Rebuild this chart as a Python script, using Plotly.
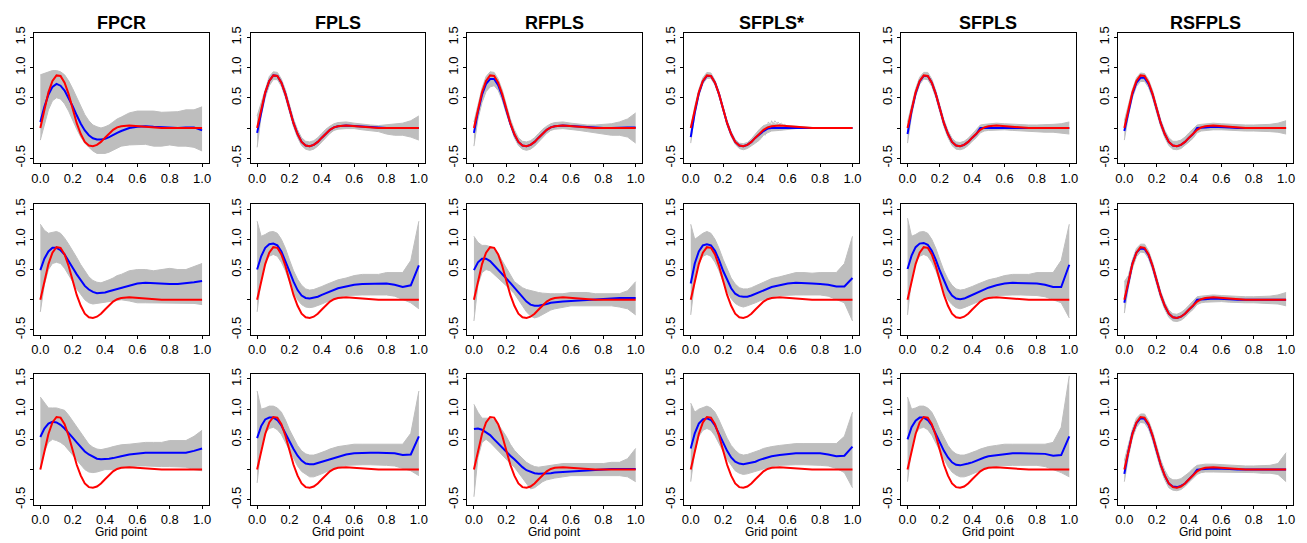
import plotly.graph_objects as go

# Grid on which every coefficient curve is stored
GRID = [0, 0.025, 0.05, 0.075, 0.1, 0.125, 0.15, 0.175, 0.2, 0.225, 0.25, 0.275, 0.3,
        0.325, 0.35, 0.375, 0.4, 0.425, 0.45, 0.475, 0.5, 0.55, 0.6, 0.65, 0.7, 0.75,
        0.8, 0.85, 0.9, 0.95, 1.0]

# True coefficient function (red)
TRUTH = [0.0, 0.32, 0.59, 0.78, 0.87, 0.86, 0.75, 0.56, 0.32, 0.08, -0.10, -0.23, -0.29,
         -0.30, -0.28, -0.23, -0.16, -0.09, -0.03, 0.01, 0.03, 0.04, 0.03, 0.015, 0.0, 0.0,
         0.0, 0.0, 0.0, 0.0, 0.0]

METHODS = ["FPCR", "FPLS", "RFPLS", "SFPLS*", "SFPLS", "RSFPLS"]
X_TICKS = [0, 0.2, 0.4, 0.6, 0.8, 1.0]
X_TICK_TEXT = ["0.0", "0.2", "0.4", "0.6", "0.8", "1.0"]
Y_TICKS = [-0.5, 0.0, 0.5, 1.0, 1.5]
Y_TICK_TEXT = ["-0.5", "", "0.5", "1.0", "1.5"]

# ---- Row 1: mean estimate (blue) and spread of replicate estimates (gray) ----
R1_FPCR_MEAN = [0.10, 0.35, 0.55, 0.68, 0.73, 0.70, 0.62, 0.50, 0.36, 0.21, 0.07, -0.04, -0.12,
                -0.17, -0.19, -0.19, -0.18, -0.15, -0.11, -0.08, -0.05, 0.0, 0.02, 0.03, 0.02,
                0.01, 0.0, 0.0, 0.01, 0.01, -0.04]
R1_FPCR_LO = [-0.2, 0.05, 0.3, 0.45, 0.5, 0.48, 0.4, 0.28, 0.12, -0.02, -0.15, -0.25, -0.32,
              -0.38, -0.42, -0.42, -0.42, -0.4, -0.37, -0.34, -0.3, -0.28, -0.27, -0.27, -0.3,
              -0.3, -0.28, -0.3, -0.3, -0.32, -0.38]
R1_FPCR_HI = [0.88, 0.9, 0.92, 0.95, 0.95, 0.93, 0.88, 0.78, 0.65, 0.5, 0.35, 0.22, 0.12,
              0.05, 0.02, 0.0, 0.02, 0.05, 0.1, 0.15, 0.18, 0.25, 0.28, 0.28, 0.28, 0.26,
              0.26, 0.27, 0.3, 0.3, 0.35]

R1_FPLS_MEAN = [-0.08, 0.28, 0.58, 0.78, 0.87, 0.86, 0.75, 0.56, 0.32, 0.08, -0.10, -0.23, -0.29,
                -0.30, -0.28, -0.23, -0.16, -0.09, -0.03, 0.01, 0.03, 0.04, 0.03, 0.02, 0.01,
                0.0, 0.0, 0.0, 0.0, 0.0, 0.0]
R1_FPLS_LO = [-0.32, 0.2, 0.5, 0.7, 0.8, 0.8, 0.69, 0.5, 0.26, 0.02, -0.16, -0.29, -0.35,
              -0.37, -0.35, -0.3, -0.23, -0.16, -0.09, -0.04, -0.02, -0.01, -0.01, -0.03, -0.05,
              -0.06, -0.1, -0.12, -0.12, -0.15, -0.2]
R1_FPLS_HI = [0.2, 0.42, 0.66, 0.85, 0.93, 0.92, 0.81, 0.63, 0.39, 0.15, -0.03, -0.16, -0.22,
              -0.23, -0.21, -0.16, -0.09, -0.02, 0.03, 0.07, 0.09, 0.1, 0.08, 0.06, 0.05,
              0.04, 0.05, 0.06, 0.08, 0.12, 0.2]

R1_RFPLS_MEAN = [-0.08, 0.27, 0.55, 0.73, 0.81, 0.81, 0.71, 0.53, 0.3, 0.07, -0.11, -0.23, -0.29,
                 -0.3, -0.28, -0.23, -0.16, -0.09, -0.03, 0.01, 0.03, 0.04, 0.03, 0.02, 0.01,
                 0.0, 0.0, 0.0, 0.01, 0.01, 0.01]
R1_RFPLS_LO = [-0.3, 0.15, 0.42, 0.6, 0.68, 0.7, 0.62, 0.46, 0.24, 0.02, -0.16, -0.29, -0.35,
               -0.37, -0.35, -0.3, -0.23, -0.16, -0.09, -0.04, -0.02, -0.01, -0.02, -0.04, -0.06,
               -0.08, -0.1, -0.12, -0.12, -0.15, -0.25]
R1_RFPLS_HI = [0.1, 0.4, 0.66, 0.85, 0.93, 0.92, 0.81, 0.63, 0.39, 0.15, -0.03, -0.16, -0.22,
               -0.23, -0.21, -0.16, -0.09, -0.02, 0.03, 0.07, 0.09, 0.1, 0.08, 0.06, 0.05,
               0.05, 0.06, 0.07, 0.1, 0.15, 0.25]

R1_SFPLSS_MEAN = [-0.15, 0.25, 0.57, 0.77, 0.86, 0.86, 0.75, 0.56, 0.32, 0.08, -0.1, -0.23, -0.29,
                  -0.3, -0.28, -0.23, -0.16, -0.1, -0.05, -0.01, 0.0, 0.0, 0.0, 0.0, 0.0,
                  0.0, 0.0, 0.0, 0.0, 0.0, 0.0]
R1_SFPLSS_LO = [-0.25, 0.22, 0.53, 0.73, 0.82, 0.82, 0.71, 0.52, 0.28, 0.04, -0.14, -0.27, -0.34,
                -0.36, -0.34, -0.3, -0.25, -0.2, -0.12, -0.08, -0.05, -0.04, -0.02, -0.01, 0.0,
                0.0, 0.0, 0.0, 0.0, 0.0, 0.0]
R1_SFPLSS_HI = [0.0, 0.36, 0.64, 0.83, 0.92, 0.91, 0.79, 0.6, 0.36, 0.12, -0.06, -0.19, -0.25,
                -0.26, -0.24, -0.18, -0.1, -0.02, 0.04, 0.06, 0.06, 0.05, 0.04, 0.03, 0.01,
                0.0, 0.0, 0.0, 0.0, 0.0, 0.0]
# a few individual SFPLS* replicates that break up around the sparse cut-off
SPIKE_X = [0.38, 0.40, 0.42, 0.44, 0.46, 0.48, 0.50, 0.52, 0.54, 0.56, 0.58, 0.60, 0.62]
SPIKE_A = [-0.22, -0.17, -0.2, -0.05, -0.12, 0.1, 0.02, 0.12, 0.05, 0.08, 0.03, 0.04, 0.0]
SPIKE_B = [-0.23, -0.16, -0.08, -0.15, 0.0, -0.06, 0.12, 0.0, 0.1, 0.02, 0.06, 0.02, 0.01]
SPIKE_C = [-0.2, -0.12, -0.14, -0.02, -0.08, 0.05, -0.03, 0.08, -0.02, 0.05, 0.0, 0.03, 0.0]

R1_SFPLS_MEAN = [-0.1, 0.28, 0.57, 0.77, 0.86, 0.86, 0.75, 0.56, 0.32, 0.08, -0.1, -0.23, -0.29,
                 -0.3, -0.28, -0.23, -0.16, -0.1, 0.0, 0.0, 0.0, 0.01, 0.01, 0.01, 0.0,
                 0.0, 0.0, 0.0, 0.0, 0.0, 0.0]
R1_SFPLS_LO = [-0.25, 0.2, 0.52, 0.72, 0.81, 0.8, 0.69, 0.5, 0.26, 0.02, -0.16, -0.29, -0.35,
               -0.36, -0.34, -0.29, -0.22, -0.16, -0.08, -0.05, -0.04, -0.03, -0.03, -0.04, -0.05,
               -0.06, -0.06, -0.07, -0.07, -0.08, -0.1]
R1_SFPLS_HI = [0.1, 0.38, 0.65, 0.84, 0.92, 0.92, 0.81, 0.62, 0.38, 0.14, -0.04, -0.17, -0.23,
               -0.24, -0.22, -0.17, -0.1, -0.03, 0.05, 0.06, 0.07, 0.08, 0.07, 0.06, 0.05,
               0.05, 0.05, 0.05, 0.06, 0.07, 0.1]

R1_RSFPLS_MEAN = [-0.05, 0.28, 0.56, 0.75, 0.83, 0.83, 0.73, 0.55, 0.31, 0.08, -0.1, -0.23, -0.29,
                  -0.3, -0.28, -0.23, -0.16, -0.1, 0.0, 0.0, 0.01, 0.02, 0.02, 0.01, 0.0,
                  0.0, 0.0, 0.0, 0.0, 0.0, 0.0]
R1_RSFPLS_LO = [-0.2, 0.2, 0.5, 0.69, 0.77, 0.77, 0.67, 0.49, 0.25, 0.02, -0.16, -0.29, -0.35,
                -0.36, -0.34, -0.29, -0.23, -0.17, -0.08, -0.05, -0.04, -0.03, -0.03, -0.04, -0.05,
                -0.05, -0.05, -0.05, -0.06, -0.07, -0.1]
R1_RSFPLS_HI = [0.12, 0.38, 0.64, 0.83, 0.91, 0.9, 0.8, 0.62, 0.38, 0.14, -0.04, -0.16, -0.22,
                -0.22, -0.2, -0.15, -0.08, -0.01, 0.05, 0.06, 0.07, 0.08, 0.07, 0.06, 0.05,
                0.05, 0.05, 0.05, 0.06, 0.08, 0.12]

# ---- Row 2 ----
R2_FPCR_MEAN = [0.49, 0.68, 0.80, 0.86, 0.86, 0.82, 0.75, 0.65, 0.53, 0.42, 0.32, 0.23, 0.17,
                0.13, 0.11, 0.11, 0.12, 0.14, 0.16, 0.18, 0.2, 0.24, 0.27, 0.28, 0.27, 0.26,
                0.26, 0.26, 0.27, 0.29, 0.31]
R2_FPCR_LO = [-0.2, 0.25, 0.5, 0.6, 0.62, 0.6, 0.52, 0.42, 0.3, 0.18, 0.08, 0.0, -0.05,
              -0.07, -0.06, -0.05, -0.03, -0.02, -0.01, 0.0, 0.0, -0.02, -0.05, -0.05, -0.05,
              -0.05, -0.05, -0.05, -0.05, -0.06, -0.08]
R2_FPCR_HI = [1.25, 1.15, 1.1, 1.12, 1.13, 1.1, 1.02, 0.92, 0.82, 0.7, 0.58, 0.47, 0.38,
              0.32, 0.29, 0.28, 0.3, 0.33, 0.36, 0.4, 0.42, 0.48, 0.5, 0.5, 0.48, 0.5,
              0.52, 0.5, 0.5, 0.55, 0.6]

R2_FPLS_MEAN = [0.5, 0.72, 0.86, 0.92, 0.93, 0.9, 0.8, 0.65, 0.47, 0.3, 0.16, 0.07, 0.03,
                0.02, 0.03, 0.05, 0.08, 0.11, 0.14, 0.17, 0.19, 0.22, 0.25, 0.26, 0.26, 0.26,
                0.27, 0.25, 0.21, 0.24, 0.57]
R2_FPLS_LO = [-0.2, 0.35, 0.62, 0.72, 0.75, 0.72, 0.62, 0.48, 0.3, 0.13, 0.0, -0.08, -0.12,
              -0.13, -0.12, -0.1, -0.07, -0.04, -0.01, 0.02, 0.04, 0.07, 0.08, 0.08, 0.08,
              0.08, 0.08, 0.06, 0.0, -0.05, -0.15]
R2_FPLS_HI = [1.3, 1.05, 1.08, 1.12, 1.13, 1.1, 1.0, 0.85, 0.66, 0.48, 0.34, 0.24, 0.18,
              0.16, 0.17, 0.19, 0.22, 0.25, 0.28, 0.31, 0.33, 0.36, 0.4, 0.42, 0.42, 0.42,
              0.45, 0.45, 0.45, 0.65, 1.3]

R2_RFPLS_MEAN = [0.49, 0.62, 0.68, 0.68, 0.64, 0.57, 0.49, 0.42, 0.35, 0.28, 0.2, 0.12, 0.04,
                 -0.03, -0.08, -0.1, -0.1, -0.09, -0.07, -0.05, -0.04, -0.03, -0.02, -0.01, 0.0,
                 0.01, 0.01, 0.02, 0.03, 0.03, 0.03]
R2_RFPLS_LO = [-0.35, 0.25, 0.45, 0.5, 0.48, 0.42, 0.36, 0.3, 0.23, 0.17, 0.1, 0.0, -0.1,
               -0.2, -0.27, -0.3, -0.28, -0.24, -0.2, -0.17, -0.15, -0.12, -0.1, -0.1, -0.1,
               -0.1, -0.1, -0.1, -0.12, -0.15, -0.25]
R2_RFPLS_HI = [1.05, 0.95, 0.9, 0.9, 0.88, 0.85, 0.76, 0.64, 0.52, 0.4, 0.3, 0.25, 0.2,
               0.17, 0.15, 0.13, 0.12, 0.11, 0.1, 0.1, 0.1, 0.1, 0.12, 0.12, 0.12,
               0.1, 0.1, 0.1, 0.1, 0.15, 0.3]

R2_SFPLSS_MEAN = [0.27, 0.6, 0.8, 0.9, 0.92, 0.9, 0.81, 0.66, 0.48, 0.32, 0.19, 0.1, 0.06,
                  0.05, 0.05, 0.07, 0.1, 0.13, 0.16, 0.19, 0.21, 0.24, 0.27, 0.28, 0.28, 0.27,
                  0.26, 0.25, 0.22, 0.22, 0.36]
R2_SFPLSS_LO = [-0.25, 0.3, 0.6, 0.72, 0.75, 0.72, 0.62, 0.48, 0.3, 0.14, 0.02, -0.06, -0.1,
                -0.12, -0.1, -0.08, -0.05, -0.02, 0.0, 0.03, 0.05, 0.07, 0.08, 0.08, 0.08,
                0.08, 0.08, 0.06, 0.0, -0.05, -0.35]
R2_SFPLSS_HI = [1.25, 1.0, 1.05, 1.1, 1.13, 1.1, 1.0, 0.85, 0.67, 0.5, 0.36, 0.26, 0.2,
                0.18, 0.18, 0.2, 0.23, 0.26, 0.3, 0.33, 0.35, 0.38, 0.42, 0.45, 0.45, 0.44,
                0.45, 0.45, 0.45, 0.6, 1.05]

R2_SFPLS_MEAN = [0.51, 0.73, 0.87, 0.93, 0.94, 0.91, 0.81, 0.66, 0.48, 0.31, 0.17, 0.07, 0.02,
                 0.01, 0.02, 0.05, 0.08, 0.11, 0.14, 0.17, 0.2, 0.24, 0.27, 0.28, 0.28, 0.27,
                 0.27, 0.25, 0.21, 0.21, 0.58]
R2_SFPLS_LO = [-0.25, 0.35, 0.62, 0.72, 0.75, 0.72, 0.62, 0.48, 0.3, 0.13, 0.0, -0.08, -0.13,
               -0.15, -0.13, -0.1, -0.07, -0.04, -0.01, 0.02, 0.04, 0.07, 0.08, 0.08, 0.08,
               0.08, 0.07, 0.05, 0.0, -0.05, -0.3]
R2_SFPLS_HI = [1.35, 1.05, 1.08, 1.12, 1.13, 1.1, 1.0, 0.85, 0.66, 0.48, 0.34, 0.24, 0.18,
               0.16, 0.17, 0.19, 0.22, 0.25, 0.28, 0.31, 0.33, 0.36, 0.4, 0.42, 0.42, 0.42,
               0.45, 0.45, 0.45, 0.65, 1.25]

R2_RSFPLS_MEAN = [-0.05, 0.3, 0.6, 0.78, 0.85, 0.84, 0.74, 0.55, 0.31, 0.08, -0.1, -0.23, -0.29,
                  -0.3, -0.28, -0.23, -0.16, -0.1, 0.0, 0.0, 0.01, 0.02, 0.02, 0.01, 0.0,
                  0.0, 0.0, 0.0, 0.0, 0.0, 0.0]
R2_RSFPLS_LO = [-0.22, 0.2, 0.52, 0.71, 0.79, 0.78, 0.68, 0.49, 0.25, 0.02, -0.16, -0.29, -0.35,
                -0.36, -0.34, -0.29, -0.22, -0.16, -0.08, -0.05, -0.04, -0.03, -0.03, -0.04, -0.05,
                -0.05, -0.05, -0.06, -0.06, -0.07, -0.1]
R2_RSFPLS_HI = [0.3, 0.4, 0.66, 0.85, 0.92, 0.92, 0.81, 0.62, 0.38, 0.14, -0.04, -0.17, -0.23,
                -0.24, -0.21, -0.16, -0.09, -0.02, 0.05, 0.06, 0.07, 0.08, 0.07, 0.06, 0.05,
                0.05, 0.05, 0.05, 0.06, 0.08, 0.12]

# ---- Row 3 ----
R3_FPCR_MEAN = [0.54, 0.68, 0.76, 0.79, 0.78, 0.74, 0.68, 0.61, 0.53, 0.45, 0.37, 0.3, 0.25,
                0.21, 0.18, 0.17, 0.17, 0.18, 0.19, 0.21, 0.22, 0.25, 0.27, 0.28, 0.28, 0.28,
                0.28, 0.28, 0.28, 0.31, 0.35]
R3_FPCR_LO = [0.0, 0.3, 0.45, 0.5, 0.48, 0.45, 0.4, 0.32, 0.24, 0.15, 0.07, 0.0, -0.04,
              -0.05, -0.04, -0.02, 0.0, 0.0, 0.0, 0.02, 0.03, 0.05, 0.06, 0.06, 0.05,
              0.05, 0.05, 0.05, 0.04, 0.0, -0.02]
R3_FPCR_HI = [1.2, 1.1, 1.02, 1.02, 1.02, 1.0, 0.98, 0.9, 0.8, 0.7, 0.6, 0.5, 0.42,
              0.37, 0.34, 0.33, 0.34, 0.36, 0.38, 0.4, 0.41, 0.42, 0.44, 0.45, 0.45,
              0.45, 0.48, 0.48, 0.48, 0.55, 0.65]

R3_FPLS_MEAN = [0.52, 0.72, 0.83, 0.86, 0.86, 0.82, 0.73, 0.61, 0.47, 0.34, 0.23, 0.15, 0.1,
                0.09, 0.09, 0.11, 0.13, 0.16, 0.18, 0.2, 0.22, 0.25, 0.27, 0.28, 0.28, 0.28,
                0.28, 0.27, 0.24, 0.25, 0.55]
R3_FPLS_LO = [-0.22, 0.38, 0.6, 0.68, 0.7, 0.66, 0.58, 0.45, 0.3, 0.17, 0.06, -0.03, -0.08,
              -0.12, -0.12, -0.1, -0.07, -0.04, -0.01, 0.02, 0.04, 0.07, 0.08, 0.08, 0.08,
              0.08, 0.07, 0.06, 0.02, -0.02, -0.1]
R3_FPLS_HI = [1.3, 1.0, 1.02, 1.05, 1.05, 1.02, 0.95, 0.82, 0.66, 0.52, 0.4, 0.31, 0.26,
              0.24, 0.24, 0.26, 0.28, 0.31, 0.34, 0.36, 0.38, 0.4, 0.42, 0.42, 0.42,
              0.42, 0.42, 0.42, 0.42, 0.6, 1.3]

R3_RFPLS_MEAN = [0.67, 0.68, 0.66, 0.62, 0.57, 0.5, 0.43, 0.36, 0.3, 0.23, 0.17, 0.1, 0.04,
                 -0.01, -0.04, -0.06, -0.07, -0.07, -0.06, -0.06, -0.05, -0.04, -0.03, -0.02,
                 -0.01, 0.0, 0.0, 0.01, 0.01, 0.01, 0.01]
R3_RFPLS_LO = [-0.45, 0.2, 0.45, 0.5, 0.45, 0.38, 0.3, 0.23, 0.17, 0.1, 0.04, -0.05, -0.15,
               -0.25, -0.32, -0.3, -0.25, -0.2, -0.17, -0.15, -0.14, -0.12, -0.1, -0.1, -0.1,
               -0.1, -0.1, -0.1, -0.1, -0.12, -0.2]
R3_RFPLS_HI = [1.08, 0.95, 0.85, 0.85, 0.85, 0.82, 0.75, 0.65, 0.55, 0.42, 0.32, 0.25, 0.18,
               0.12, 0.08, 0.05, 0.04, 0.05, 0.06, 0.07, 0.08, 0.1, 0.1, 0.1, 0.1,
               0.1, 0.1, 0.12, 0.12, 0.18, 0.35]

R3_SFPLSS_MEAN = [0.35, 0.6, 0.76, 0.83, 0.85, 0.82, 0.73, 0.6, 0.45, 0.31, 0.2, 0.13, 0.1,
                  0.09, 0.1, 0.11, 0.13, 0.16, 0.18, 0.2, 0.22, 0.24, 0.26, 0.27, 0.27, 0.27,
                  0.27, 0.25, 0.22, 0.23, 0.38]
R3_SFPLSS_LO = [-0.2, 0.3, 0.55, 0.65, 0.68, 0.65, 0.56, 0.44, 0.3, 0.17, 0.07, -0.02, -0.06,
                -0.08, -0.07, -0.05, -0.03, 0.0, 0.02, 0.04, 0.05, 0.07, 0.08, 0.08, 0.08,
                0.08, 0.07, 0.06, 0.02, -0.05, -0.3]
R3_SFPLSS_HI = [1.1, 0.95, 1.0, 1.03, 1.05, 1.02, 0.95, 0.82, 0.66, 0.52, 0.4, 0.32, 0.26,
                0.24, 0.25, 0.27, 0.29, 0.32, 0.35, 0.37, 0.38, 0.4, 0.42, 0.43, 0.43,
                0.43, 0.43, 0.43, 0.43, 0.55, 0.95]

R3_SFPLS_MEAN = [0.5, 0.7, 0.81, 0.86, 0.86, 0.82, 0.73, 0.6, 0.45, 0.31, 0.2, 0.12, 0.08,
                 0.07, 0.08, 0.1, 0.12, 0.15, 0.18, 0.2, 0.22, 0.24, 0.26, 0.27, 0.27, 0.27,
                 0.27, 0.26, 0.23, 0.24, 0.55]
R3_SFPLS_LO = [-0.2, 0.36, 0.6, 0.68, 0.7, 0.66, 0.57, 0.44, 0.3, 0.16, 0.05, -0.04, -0.09,
               -0.12, -0.12, -0.1, -0.07, -0.04, -0.01, 0.02, 0.04, 0.06, 0.07, 0.07, 0.07,
               0.07, 0.07, 0.05, 0.0, -0.05, -0.12]
R3_SFPLS_HI = [1.2, 1.0, 1.02, 1.05, 1.05, 1.02, 0.95, 0.82, 0.66, 0.52, 0.4, 0.31, 0.26,
               0.24, 0.24, 0.26, 0.28, 0.31, 0.34, 0.36, 0.38, 0.4, 0.42, 0.42, 0.42,
               0.42, 0.42, 0.42, 0.45, 0.7, 1.55]

R3_RSFPLS_MEAN = [-0.07, 0.3, 0.6, 0.77, 0.85, 0.84, 0.74, 0.55, 0.31, 0.08, -0.1, -0.23, -0.28,
                  -0.29, -0.27, -0.23, -0.16, -0.09, 0.0, 0.0, 0.01, 0.02, 0.02, 0.01, 0.0,
                  0.0, 0.0, 0.0, 0.0, 0.0, 0.0]
R3_RSFPLS_LO = [-0.2, 0.2, 0.52, 0.7, 0.78, 0.77, 0.67, 0.48, 0.24, 0.01, -0.17, -0.3, -0.34,
                -0.35, -0.33, -0.28, -0.21, -0.15, -0.08, -0.05, -0.04, -0.04, -0.04, -0.05, -0.05,
                -0.05, -0.05, -0.06, -0.06, -0.08, -0.2]
R3_RSFPLS_HI = [0.15, 0.4, 0.67, 0.85, 0.92, 0.92, 0.81, 0.63, 0.39, 0.16, -0.01, -0.13, -0.17,
                -0.17, -0.15, -0.1, -0.05, 0.02, 0.07, 0.08, 0.09, 0.09, 0.08, 0.07, 0.06,
                0.06, 0.06, 0.06, 0.07, 0.1, 0.28]

PANELS = [
    [(R1_FPCR_MEAN, R1_FPCR_LO, R1_FPCR_HI), (R1_FPLS_MEAN, R1_FPLS_LO, R1_FPLS_HI),
     (R1_RFPLS_MEAN, R1_RFPLS_LO, R1_RFPLS_HI), (R1_SFPLSS_MEAN, R1_SFPLSS_LO, R1_SFPLSS_HI),
     (R1_SFPLS_MEAN, R1_SFPLS_LO, R1_SFPLS_HI), (R1_RSFPLS_MEAN, R1_RSFPLS_LO, R1_RSFPLS_HI)],
    [(R2_FPCR_MEAN, R2_FPCR_LO, R2_FPCR_HI), (R2_FPLS_MEAN, R2_FPLS_LO, R2_FPLS_HI),
     (R2_RFPLS_MEAN, R2_RFPLS_LO, R2_RFPLS_HI), (R2_SFPLSS_MEAN, R2_SFPLSS_LO, R2_SFPLSS_HI),
     (R2_SFPLS_MEAN, R2_SFPLS_LO, R2_SFPLS_HI), (R2_RSFPLS_MEAN, R2_RSFPLS_LO, R2_RSFPLS_HI)],
    [(R3_FPCR_MEAN, R3_FPCR_LO, R3_FPCR_HI), (R3_FPLS_MEAN, R3_FPLS_LO, R3_FPLS_HI),
     (R3_RFPLS_MEAN, R3_RFPLS_LO, R3_RFPLS_HI), (R3_SFPLSS_MEAN, R3_SFPLSS_LO, R3_SFPLSS_HI),
     (R3_SFPLS_MEAN, R3_SFPLS_LO, R3_SFPLS_HI), (R3_RSFPLS_MEAN, R3_RSFPLS_LO, R3_RSFPLS_HI)],
]

# ---- Page geometry (pixels) ----
W, H = 1307, 543
COL_LEFT0, COL_STEP, BOX_W = 31.0, 217.8, 175.5
ROW_TOPS = [27.0, 202.0, 375.0]
BOX_H = 133.0
FONT = "Liberation Sans, Arial, sans-serif"
GRAY = "#BEBEBE"

fig = go.Figure()
layout = dict(
    width=W, height=H, margin=dict(l=0, r=0, t=0, b=0),
    paper_bgcolor="white", plot_bgcolor="white", showlegend=False,
    font=dict(family=FONT, size=13, color="black"),
)
annotations = []

for r in range(3):
    for c in range(6):
        k = r * 6 + c + 1
        xa = "x" if k == 1 else f"x{k}"
        ya = "y" if k == 1 else f"y{k}"
        mean, lo, hi = PANELS[r][c]

        # replicate spread
        fig.add_trace(go.Scatter(x=GRID, y=lo, mode="lines", xaxis=xa, yaxis=ya,
                                 line=dict(color=GRAY, width=1), hoverinfo="skip"))
        fig.add_trace(go.Scatter(x=GRID, y=hi, mode="lines", xaxis=xa, yaxis=ya,
                                 fill="tonexty", fillcolor=GRAY,
                                 line=dict(color=GRAY, width=1), hoverinfo="skip"))
        if r == 0 and METHODS[c] == "SFPLS*":
            for spike in (SPIKE_A, SPIKE_B, SPIKE_C):
                fig.add_trace(go.Scatter(x=SPIKE_X, y=spike, mode="lines", xaxis=xa,
                                         yaxis=ya, line=dict(color=GRAY, width=1),
                                         hoverinfo="skip"))
        # mean estimate and truth
        fig.add_trace(go.Scatter(x=GRID, y=mean, mode="lines", xaxis=xa, yaxis=ya,
                                 line=dict(color="#0000FF", width=2)))
        fig.add_trace(go.Scatter(x=GRID, y=TRUTH, mode="lines", xaxis=xa, yaxis=ya,
                                 line=dict(color="#FF0000", width=2)))

        left = COL_LEFT0 + COL_STEP * c
        top = ROW_TOPS[r]
        xdom = [left / W, (left + BOX_W) / W]
        ydom = [1 - (top + BOX_H) / H, 1 - top / H]
        axis_common = dict(showline=True, mirror=True, linecolor="black", linewidth=1,
                           ticks="outside", ticklen=3, tickwidth=1, tickcolor="black",
                           showgrid=False, zeroline=False,
                           tickfont=dict(family=FONT, size=13, color="black"))
        layout["xaxis" if k == 1 else f"xaxis{k}"] = dict(
            domain=xdom, range=[-0.04, 1.04], anchor=ya,
            tickvals=X_TICKS, ticktext=X_TICK_TEXT, **axis_common)
        layout["yaxis" if k == 1 else f"yaxis{k}"] = dict(
            domain=ydom, range=[-0.58, 1.58], anchor=xa,
            tickvals=Y_TICKS, ticktext=Y_TICK_TEXT, tickangle=-90, **axis_common)

        if r == 0:
            annotations.append(dict(text=f"<b>{METHODS[c]}</b>", xref="paper", yref="paper",
                                    x=(left + BOX_W / 2) / W, y=1 - 17 / H,
                                    xanchor="center", yanchor="middle", showarrow=False,
                                    font=dict(family=FONT, size=18, color="black")))
        if r == 2:
            annotations.append(dict(text="Grid point", xref="paper", yref="paper",
                                    x=(left + BOX_W / 2) / W, y=1 - 536 / H,
                                    xanchor="center", yanchor="middle", showarrow=False,
                                    borderpad=0,
                                    font=dict(family=FONT, size=12, color="black")))

layout["annotations"] = annotations
fig.update_layout(**layout)
fig.write_html("out.html")
